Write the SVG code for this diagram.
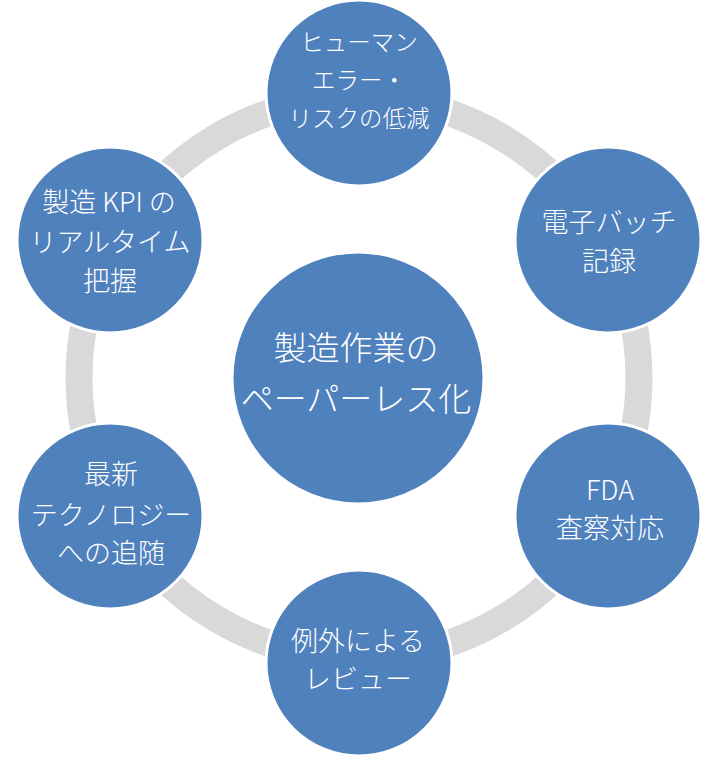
<svg xmlns="http://www.w3.org/2000/svg" width="718" height="757" viewBox="0 0 718 757">
<style>
.ring{fill:none;stroke:#d9d9d9;stroke-width:27}
.node{fill:#4f81bd;stroke:#ffffff;stroke-width:3}
.t{fill:#ffffff;font-family:"Noto Sans CJK JP","Noto Sans",sans-serif;font-weight:300;text-anchor:middle}
.s23{font-size:23.5px}
.s27{font-size:27px}
.s33{font-size:33px}
</style>
<rect width="718" height="757" fill="#ffffff"/>
<g id="connectors">
<path class="ring" d="M359 98 A280 280 0 0 1 603.9 242.3"/>
<path class="ring" d="M603.9 242.3 A280 280 0 0 1 603.9 513.7"/>
<path class="ring" d="M603.9 513.7 A280 280 0 0 1 359 658"/>
<path class="ring" d="M359 658 A280 280 0 0 1 114.1 513.7"/>
<path class="ring" d="M114.1 513.7 A280 280 0 0 1 114.1 242.3"/>
<path class="ring" d="M114.1 242.3 A280 280 0 0 1 359 98"/>
</g>
<g id="center">
<circle class="node" cx="358" cy="378" r="126"/>
<text class="t s33" x="356" y="359.5">製造作業の</text>
<text class="t s33" x="356" y="410.5">ペーパーレス化</text>
</g>
<g id="node-top">
<circle class="node" cx="359" cy="93" r="93"/>
<text class="t s23" x="359" y="50.7">ヒューマン</text>
<text class="t s23" x="359" y="88.7">エラー・</text>
<text class="t s23" x="359" y="126.7">リスクの低減</text>
</g>
<g id="node-top-right">
<circle class="node" cx="608" cy="240" r="93"/>
<text class="t s27" x="609" y="232">電子バッチ</text>
<text class="t s27" x="609" y="271">記録</text>
</g>
<g id="node-bottom-right">
<circle class="node" cx="608" cy="516" r="93"/>
<text class="t s27" x="610" y="500">FDA</text>
<text class="t s27" x="610" y="538">査察対応</text>
</g>
<g id="node-bottom">
<circle class="node" cx="359" cy="663" r="93"/>
<text class="t s27" x="358" y="650.6">例外による</text>
<text class="t s27" x="358" y="688.6">レビュー</text>
</g>
<g id="node-bottom-left">
<circle class="node" cx="110" cy="516" r="93"/>
<text class="t s27" x="111" y="484">最新</text>
<text class="t s27" x="111" y="525">テクノロジー</text>
<text class="t s27" x="111" y="563">への追随</text>
</g>
<g id="node-top-left">
<circle class="node" cx="110" cy="240" r="93"/>
<text class="t s27" x="109" y="212">製造 KPI の</text>
<text class="t s27" x="110" y="252">リアルタイム</text>
<text class="t s27" x="110" y="291">把握</text>
</g>
</svg>
